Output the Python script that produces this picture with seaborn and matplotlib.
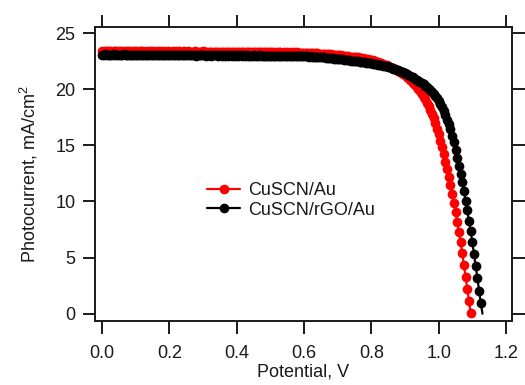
import numpy as np
import pandas as pd
import matplotlib
matplotlib.use("Agg")
import matplotlib.pyplot as plt
import seaborn as sns

# J-V sweeps, photocurrent in mA/cm^2, one reading every 0.005 V starting at 0 V
sweep_step = 0.005

current_cuscn_au = [
    23.40, 23.36, 23.41, 23.37, 23.42, 23.38, 23.35, 23.40, 23.37, 23.41,
    23.38, 23.42, 23.36, 23.39, 23.35, 23.40, 23.37, 23.41, 23.36, 23.38,
    23.40, 23.35, 23.39, 23.37, 23.41, 23.36, 23.38, 23.34, 23.39, 23.37,
    23.36, 23.40, 23.35, 23.38, 23.36, 23.39, 23.34, 23.37, 23.35, 23.38,
    23.36, 23.33, 23.38, 23.35, 23.37, 23.34, 23.38, 23.35, 23.33, 23.37,
    23.35, 23.38, 23.34, 23.36, 23.33, 23.37, 23.34, 23.36, 23.32, 23.35,
    23.37, 23.33, 23.35, 23.32, 23.36, 23.34, 23.31, 23.35, 23.33, 23.36,
    23.32, 23.34, 23.31, 23.35, 23.33, 23.30, 23.34, 23.32, 23.35, 23.31,
    23.33, 23.30, 23.34, 23.32, 23.29, 23.33, 23.31, 23.34, 23.30, 23.32,
    23.29, 23.33, 23.31, 23.28, 23.32, 23.30, 23.33, 23.29, 23.31, 23.28,
    23.32, 23.29, 23.31, 23.27, 23.30, 23.28, 23.31, 23.27, 23.29, 23.26,
    23.30, 23.27, 23.29, 23.26, 23.28, 23.25, 23.28, 23.26, 23.27, 23.24,
    23.27, 23.25, 23.26, 23.23, 23.25, 23.22, 23.23, 23.20, 23.21, 23.18,
    23.18, 23.16, 23.16, 23.13, 23.14, 23.11, 23.11, 23.08, 23.08, 23.05,
    23.05, 23.02, 23.02, 22.99, 22.98, 22.96, 22.94, 22.92, 22.90, 22.88,
    22.88, 22.85, 22.84, 22.81, 22.79, 22.76, 22.74, 22.71, 22.68, 22.65,
    22.62, 22.57, 22.52, 22.47, 22.42, 22.37, 22.31, 22.25, 22.19, 22.13,
    22.07, 22.00, 21.94, 21.87, 21.80, 21.72, 21.64, 21.55, 21.46, 21.36,
    21.25, 21.13, 21.00, 20.86, 20.71, 20.55, 20.38, 20.20, 20.01, 19.81,
    19.59, 19.35, 19.09, 18.81, 18.51, 18.18, 17.82, 17.42, 16.98, 16.50,
    15.98, 15.42, 14.82, 14.19, 13.53, 12.86, 12.17, 11.45, 10.70, 9.91,
    9.08, 8.21, 7.30, 6.35, 5.37, 4.33, 3.27, 2.19, 1.10, 0.02,
]

current_cuscn_rgo_au = [
    23.08, 23.05, 23.10, 23.06, 23.09, 23.04, 23.08, 23.11, 23.06, 23.09,
    23.05, 23.09, 23.06, 23.10, 23.04, 23.07, 23.09, 23.05, 23.08, 23.06,
    23.09, 23.04, 23.07, 23.05, 23.09, 23.06, 23.03, 23.08, 23.05, 23.07,
    23.04, 23.08, 23.05, 23.07, 23.03, 23.06, 23.08, 23.04, 23.06, 23.03,
    23.07, 23.04, 23.06, 23.02, 23.05, 23.07, 23.03, 23.06, 23.04, 23.02,
    23.06, 23.03, 23.05, 23.02, 23.06, 23.03, 23.01, 23.05, 23.03, 23.06,
    23.02, 23.04, 23.01, 23.05, 23.03, 23.00, 23.04, 23.02, 23.05, 23.01,
    23.03, 23.01, 23.04, 23.00, 23.03, 23.01, 23.04, 23.00, 23.02, 22.99,
    23.03, 23.00, 23.02, 22.99, 23.02, 23.00, 23.03, 22.99, 23.01, 22.98,
    23.02, 22.99, 23.01, 22.98, 23.02, 22.99, 23.01, 22.97, 23.00, 22.98,
    23.01, 22.98, 23.00, 22.97, 23.01, 22.98, 23.00, 22.96, 22.99, 22.97,
    23.00, 22.97, 22.99, 22.96, 22.99, 22.96, 22.98, 22.95, 22.97, 22.94,
    22.97, 22.94, 22.95, 22.92, 22.93, 22.90, 22.91, 22.88, 22.89, 22.86,
    22.87, 22.84, 22.84, 22.81, 22.81, 22.78, 22.78, 22.75, 22.74, 22.72,
    22.73, 22.70, 22.69, 22.66, 22.65, 22.62, 22.61, 22.58, 22.56, 22.54,
    22.54, 22.51, 22.49, 22.46, 22.44, 22.41, 22.39, 22.36, 22.34, 22.31,
    22.30, 22.27, 22.24, 22.21, 22.18, 22.15, 22.12, 22.09, 22.06, 22.03,
    22.00, 21.95, 21.90, 21.85, 21.80, 21.74, 21.68, 21.62, 21.56, 21.50,
    21.43, 21.36, 21.29, 21.21, 21.13, 21.05, 20.96, 20.87, 20.77, 20.67,
    20.56, 20.45, 20.33, 20.20, 20.06, 19.91, 19.75, 19.58, 19.39, 19.18,
    18.95, 18.68, 18.38, 18.05, 17.69, 17.30, 16.88, 16.44, 15.88, 15.28,
    14.62, 13.92, 13.20, 12.45, 11.70, 10.90, 10.05, 9.20, 8.30, 7.35,
    6.35, 5.30, 4.25, 3.15, 2.05, 0.95, 0.00,
]

sample_labels = ["CuSCN/Au", "CuSCN/rGO/Au"]
sample_colors = ["#ff0000", "#000000"]
x_ticks = [0.0, 0.2, 0.4, 0.6, 0.8, 1.0, 1.2]
y_ticks = [0, 5, 10, 15, 20, 25]


def sweep_frame(current):
    potential = np.arange(len(current)) * sweep_step
    return pd.DataFrame({"Potential": potential, "Photocurrent": current})


sns.set_style("ticks")
plt.rcParams["font.family"] = ["Liberation Sans", "DejaVu Sans"]
plt.rcParams["mathtext.default"] = "regular"
ink = "#1a1a1a"

W, H = 525, 385
fig = plt.figure(figsize=(W / 100, H / 100), dpi=100)
ax = fig.add_axes([95 / W, 1 - 321 / H, (512 - 95) / W, (321 - 27) / H])

red = sweep_frame(current_cuscn_au)
black = sweep_frame(current_cuscn_rgo_au)

mk = dict(marker="o", markersize=7, markeredgewidth=0, linewidth=1.6,
          estimator=None, legend=False)
sns.lineplot(data=red, x="Potential", y="Photocurrent", ax=ax,
             color=sample_colors[0], **mk)
# the final black reading (at open circuit) is joined by the line only
sns.lineplot(data=black.iloc[:-1], x="Potential", y="Photocurrent", ax=ax,
             color=sample_colors[1], **mk)
sns.lineplot(data=black.iloc[-2:], x="Potential", y="Photocurrent", ax=ax,
             color=sample_colors[1], linewidth=1.6, estimator=None, legend=False)

ax.set_xlim(-0.0208, 1.2177)
ax.set_ylim(-0.65, 25.55)
ax.set_xticks(x_ticks)
ax.set_xticklabels([f"{t:.1f}" for t in x_ticks])
ax.set_yticks(y_ticks)
ax.set_yticklabels([str(t) for t in y_ticks])

for s in ax.spines.values():
    s.set_visible(True)
    s.set_linewidth(1.4)
    s.set_color(ink)
ax.tick_params(axis="both", direction="out", length=9, width=1.4,
               top=True, right=True, labeltop=False, labelright=False,
               labelsize=13, colors=ink)
ax.tick_params(axis="x", pad=8)
ax.tick_params(axis="y", pad=5)

ax.set_xlabel("Potential, V", fontsize=13, color=ink, labelpad=1.5)
ax.set_ylabel("Photocurrent, mA/cm$^2$", fontsize=13, color=ink, labelpad=11)

ax.legend(handles=[ax.lines[0], ax.lines[1]], labels=sample_labels,
          loc="upper left", bbox_to_anchor=(207 / W, 1 - 182 / H),
          bbox_transform=fig.transFigure, frameon=False, borderpad=0,
          borderaxespad=0, handlelength=1.85, handletextpad=0.45,
          labelspacing=0.15, fontsize=13, labelcolor=ink)

fig.savefig("out.png", dpi=100)
